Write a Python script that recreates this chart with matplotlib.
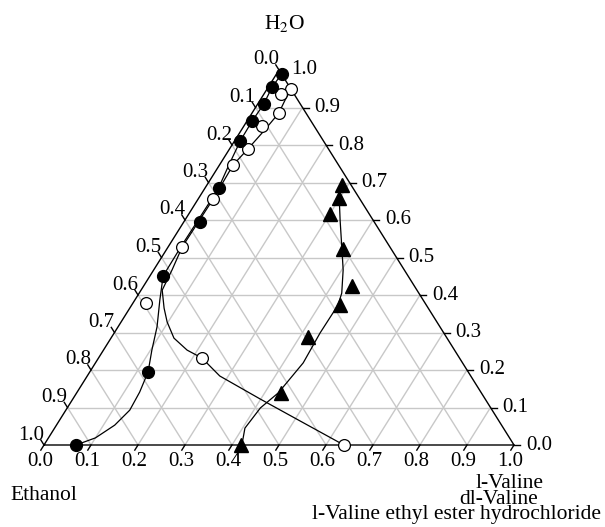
import numpy as np
import matplotlib.pyplot as plt

plt.rcParams['font.family'] = ['Liberation Serif', 'DejaVu Serif']
plt.rcParams['mathtext.fontset'] = 'stix'

# ternary data: water fraction (w) and solute fraction (s); ethanol = 1 - w - s
# l-Valine (filled circles)
w_lval = [0.99, 0.955, 0.91, 0.865, 0.81, 0.685, 0.595, 0.45, 0.195, 0.0]
s_lval = [0.011, 0.008, 0.013, 0.011, 0.012, 0.029, 0.035, 0.028, 0.124, 0.068]

# dl-Valine (open circles)
w_dlval = [0.949, 0.936, 0.885, 0.851, 0.789, 0.747, 0.656, 0.528, 0.379, 0.232, 0.0]
s_dlval = [0.051, 0.036, 0.057, 0.039, 0.039, 0.029, 0.032, 0.030, 0.028, 0.220, 0.638]

# l-Valine ethyl ester hydrochloride (triangles)
w_ester = [0.693, 0.659, 0.616, 0.523, 0.424, 0.373, 0.288, 0.139, 0.0]
s_ester = [0.287, 0.298, 0.301, 0.375, 0.443, 0.443, 0.418, 0.435, 0.419]

# smoothed curves
w_c1 = [0.989, 0.955, 0.909, 0.864, 0.813, 0.747, 0.683, 0.595, 0.533, 0.451,
        0.387, 0.315, 0.253, 0.195, 0.141, 0.093, 0.053, 0.019, 0.0]
s_c1 = [0.011, 0.008, 0.013, 0.011, 0.012, 0.020, 0.029, 0.028, 0.027, 0.028,
        0.053, 0.083, 0.103, 0.124, 0.133, 0.136, 0.124, 0.100, 0.068]

w_c2 = [0.949, 0.920, 0.885, 0.837, 0.789, 0.747, 0.656, 0.595, 0.528, 0.467,
        0.413, 0.365, 0.328, 0.285, 0.253, 0.232, 0.184, 0.123, 0.064, 0.0]
s_c2 = [0.051, 0.053, 0.057, 0.049, 0.039, 0.029, 0.032, 0.031, 0.030, 0.039,
        0.045, 0.073, 0.098, 0.134, 0.178, 0.220, 0.282, 0.398, 0.513, 0.638]

w_c3 = [0.664, 0.600, 0.520, 0.467, 0.405, 0.373, 0.299, 0.219, 0.139, 0.099,
        0.045, 0.0]
s_c3 = [0.296, 0.330, 0.374, 0.403, 0.431, 0.439, 0.438, 0.442, 0.429, 0.411,
        0.405, 0.421]

ticks = np.round(np.arange(0, 1.01, 0.1), 1)


def cart(w, s):
    w = np.asarray(w)
    s = np.asarray(s)
    return s + w / 2, w


fig = plt.figure(figsize=(6.05, 5.27), dpi=100)
ax = fig.add_axes([44 / 605, 82 / 527, 470 / 605, 375 / 527])
ax.set_xlim(0, 1)
ax.set_ylim(0, 1)
ax.axis('off')

fs = 15

# grid
gc = '#c8c8c8'
for t in ticks[1:-1]:
    # constant water
    x, y = cart([t, t], [0, 1 - t])
    ax.plot(x, y, color=gc, lw=1, zorder=1)
    # constant solute
    x, y = cart([0, 1 - t], [t, t])
    ax.plot(x, y, color=gc, lw=1, zorder=1)
    # constant ethanol
    x, y = cart([0, 1 - t], [1 - t, 0])
    ax.plot(x, y, color=gc, lw=1, zorder=1)

# triangle
ax.plot([0, 1, 0.5, 0], [0, 0, 1, 0], color='black', lw=1, zorder=2, clip_on=False)

# ticks and labels
tl = 0.0136
for t in ticks:
    # right edge: water
    x, y = cart(t, 1 - t)
    ax.plot([x, x + 0.013], [y, y], color='black', lw=1, clip_on=False)
    ax.annotate('%.1f' % t, (x, y), xytext=(12, 0), textcoords='offset pixels',
                ha='left', va='center', fontsize=fs)
    # left edge: ethanol
    x, y = cart(1 - t, 0)
    ax.plot([x, x - 0.5 * tl], [y, y + tl], color='black', lw=1, clip_on=False)
    ax.annotate('%.1f' % t, (x, y), xytext=(-13, 10), textcoords='offset pixels',
                ha='center', va='center', fontsize=fs)
    # bottom edge: solute
    x, y = cart(0, t)
    ax.plot([x, x - 0.5 * tl], [y, y - tl], color='black', lw=1, clip_on=False)
    ax.annotate('%.1f' % t, (x, y), xytext=(-4, -16), textcoords='offset pixels',
                ha='center', va='center', fontsize=fs)

# curves
for ww, ss in [(w_c1, s_c1), (w_c2, s_c2), (w_c3, s_c3)]:
    x, y = cart(ww, ss)
    ax.plot(x, y, color='black', lw=0.9, zorder=3, clip_on=False)

# data points
x, y = cart(w_dlval, s_dlval)
ax.plot(x, y, 'o', ms=8.5, mfc='white', mec='black', mew=0.9, zorder=4, clip_on=False)
x, y = cart(w_lval, s_lval)
ax.plot(x, y, 'o', ms=8.5, mfc='black', mec='black', zorder=5, clip_on=False)
x, y = cart(w_ester, s_ester)
ax.plot(x, y, '^', ms=9.5, mfc='black', mec='black', zorder=5, clip_on=False)

# vertex labels
fig.text(285 / 605, 1 - 23 / 527, 'H$_2$O', ha='center', va='center', fontsize=fs + 0.5)
fig.text(10 / 605, 1 - 495 / 527, 'Ethanol', ha='left', va='center', fontsize=fs + 0.5)
fig.text(510 / 605, 1 - 484 / 527, 'l-Valine', ha='center', va='center', fontsize=fs + 0.5)
fig.text(499 / 605, 1 - 500 / 527, 'dl-Valine', ha='center', va='center', fontsize=fs + 0.5)
fig.text(457 / 605, 1 - 515 / 527, 'l-Valine ethyl ester hydrochloride',
         ha='center', va='center', fontsize=fs + 0.5)

fig.savefig('out.png', dpi=100)
